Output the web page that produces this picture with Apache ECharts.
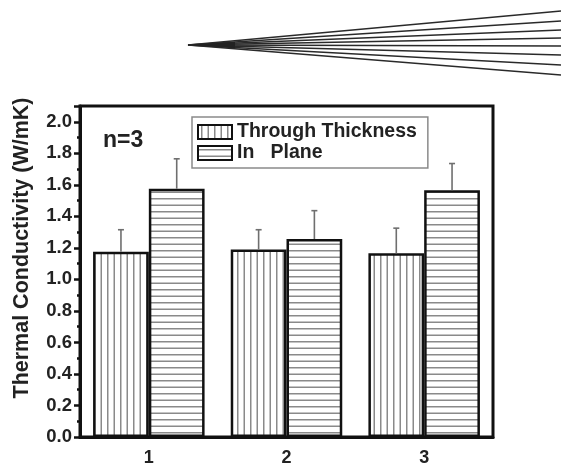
<!DOCTYPE html>
<html>
<head>
<meta charset="utf-8">
<script src="https://cdn.jsdelivr.net/npm/echarts@6/dist/echarts.min.js"></script>
<style>html,body{margin:0;padding:0;background:#fff}#c{width:561px;height:467px}</style>
</head>
<body>
<div id="c"></div>
<script>
const categories = ['1', '2', '3'];
const throughThickness = [1.175, 1.19, 1.165];
const throughThicknessErr = [0.14, 0.125, 0.16];
const inPlane = [1.575, 1.256, 1.565];
const inPlaneErr = [0.19, 0.18, 0.17];
const yTicks = [0, 0.2, 0.4, 0.6, 0.8, 1.0, 1.2, 1.4, 1.6, 1.8, 2.0];
const seriesNames = ['Through Thickness', 'In   Plane'];
const fanEnds = [11, 21, 30, 38, 46, 55, 65, 75];

function makePattern(vertical) {
  const c = document.createElement('canvas');
  c.width = 13; c.height = 13;
  const g = c.getContext('2d');
  g.fillStyle = '#ffffff';
  g.fillRect(0, 0, 13, 13);
  g.fillStyle = '#8a8a8a';
  if (vertical) { g.fillRect(3, 0, 1.5, 13); g.fillRect(9.5, 0, 1.5, 13); }
  else { g.fillRect(0, 3, 13, 1.5); g.fillRect(0, 9.5, 13, 1.5); }
  return c;
}
const vPat = {image: makePattern(true), repeat: 'repeat'};
const hPat = {image: makePattern(false), repeat: 'repeat'};

const GAP = 0.19;
function errSeries(vals, errs, side) {
  return {
    type: 'custom',
    z: 5,
    silent: true,
    encode: {x: 0, y: [1, 2]},
    data: vals.map((v, i) => [i, v, v + errs[i]]),
    renderItem: function (params, api) {
      const band = api.size([1, 0])[0];
      const bw = band * (1 - GAP) / 2;
      const p0 = api.coord([api.value(0), api.value(1)]);
      const p1 = api.coord([api.value(0), api.value(2)]);
      const x = p0[0] + side * bw / 2;
      const st = {stroke: '#6f6f6f', lineWidth: 1.6};
      return {type: 'group', children: [
        {type: 'line', shape: {x1: x, y1: p0[1], x2: x, y2: p1[1]}, style: st},
        {type: 'line', shape: {x1: x - 3, y1: p1[1], x2: x + 3, y2: p1[1]}, style: st}
      ]};
    }
  };
}

const fan = fanEnds.map(y => ({
  type: 'line', shape: {x1: 188, y1: 45, x2: 561, y2: y},
  style: {stroke: '#2a2a2a', lineWidth: 1.5}
}));
fan.push({type: 'polygon', shape: {points: [[186, 45], [235, 42], [235, 48]]}, style: {fill: '#222'}});

const chart = echarts.init(document.getElementById('c'), null, {renderer: 'canvas'});
chart.setOption({
  animation: false,
  backgroundColor: '#fff',
  grid: {left: 80, right: 68, top: 106, bottom: 25, show: true, borderColor: '#111', borderWidth: 3, backgroundColor: 'transparent'},
  legend: {
    data: seriesNames,
    orient: 'vertical',
    left: 192, top: 117,
    padding: [5, 11, 5, 5],
    itemGap: 1,
    icon: 'rect',
    itemWidth: 34, itemHeight: 14,
    borderColor: '#8a8a8a', borderWidth: 1.5,
    itemStyle: {borderColor: '#111', borderWidth: 2},
    textStyle: {fontFamily: 'Arial, Liberation Sans', fontWeight: 'bold', fontSize: 19.5, color: '#222', padding: [0, 0, 0, 0]}
  },
  xAxis: [{
    type: 'category', data: categories, position: 'bottom',
    axisLine: {lineStyle: {color: '#111', width: 3}},
    axisTick: {alignWithLabel: true, length: 7, lineStyle: {color: '#111', width: 2.5}},
    axisLabel: {margin: 12, fontFamily: 'Arial, Liberation Sans', fontWeight: 'bold', fontSize: 18, color: '#222'}
  }, {
    type: 'category', data: categories, position: 'bottom',
    axisLine: {show: false},
    axisTick: {length: 3, lineStyle: {color: '#111', width: 2.5}},
    axisLabel: {show: false}
  }],
  yAxis: {
    type: 'value', min: 0, max: 2.1, interval: 0.2,
    splitLine: {show: false},
    axisLine: {show: true, lineStyle: {color: '#111', width: 3}},
    axisTick: {show: true, length: 6, lineStyle: {color: '#111', width: 2.5}},
    minorTick: {show: true, splitNumber: 2, length: 3, lineStyle: {color: '#111', width: 2.5}},
    axisLabel: {margin: 8, showMaxLabel: false, fontFamily: 'Arial, Liberation Sans', fontWeight: 'bold', fontSize: 18.5, color: '#222',
      formatter: v => yTicks.some(t => Math.abs(t - v) < 1e-6) ? v.toFixed(1) : ''}
  },
  graphic: fan.concat([
    {type: 'text', left: 103, top: 129, style: {text: 'n=3', fontFamily: 'Arial, Liberation Sans', fontWeight: 'bold', fontSize: 23, fill: '#222'}},
    {type: 'text', x: 22, y: 248, rotation: Math.PI / 2,
      style: {text: 'Thermal Conductivity (W/mK)', fontFamily: 'Arial, Liberation Sans', fontWeight: 'bold', fontSize: 21.5, fill: '#222', align: 'center', verticalAlign: 'middle'}}
  ]),
  series: [{
    name: seriesNames[0], type: 'bar', data: throughThickness,
    barGap: '0%', barCategoryGap: (GAP * 100) + '%',
    itemStyle: {color: vPat, borderColor: '#111', borderWidth: 2.5}
  }, {
    name: seriesNames[1], type: 'bar', data: inPlane,
    itemStyle: {color: hPat, borderColor: '#111', borderWidth: 2.5}
  },
  errSeries(throughThickness, throughThicknessErr, -1),
  errSeries(inPlane, inPlaneErr, 1)]
});
</script>
</body>
</html>
